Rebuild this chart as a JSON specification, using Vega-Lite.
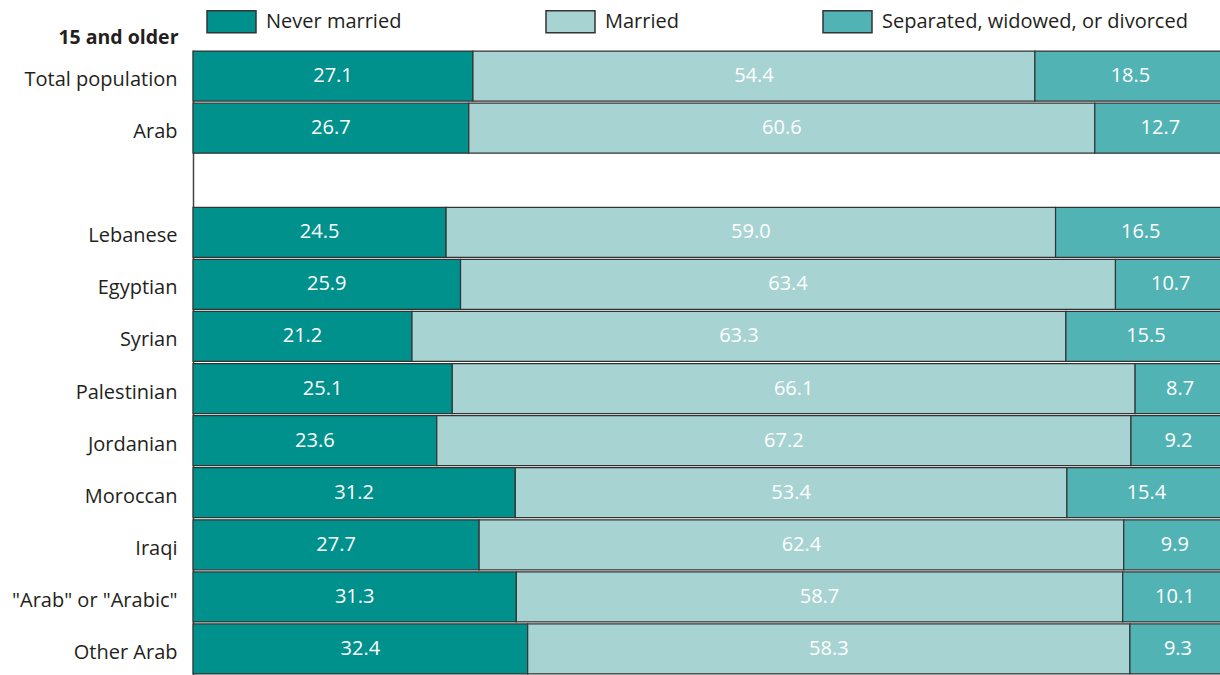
{
  "$schema": "https://vega.github.io/schema/vega-lite/v6.json",
  "autosize": "none",
  "padding": {"left": 193, "top": 50, "right": 0, "bottom": 0},
  "width": 1033,
  "height": 625,
  "background": "white",
  "config": {
    "view": {"stroke": null},
    "font": "Open Sans",
    "text": {"font": "Open Sans"}
  },
  "data": {
    "values": [
      {"group": "Total population", "status": "Never married", "value": 27.1},
      {"group": "Total population", "status": "Married", "value": 54.4},
      {"group": "Total population", "status": "Separated, widowed, or divorced", "value": 18.5},
      {"group": "Arab", "status": "Never married", "value": 26.7},
      {"group": "Arab", "status": "Married", "value": 60.6},
      {"group": "Arab", "status": "Separated, widowed, or divorced", "value": 12.7},
      {"group": "Lebanese", "status": "Never married", "value": 24.5},
      {"group": "Lebanese", "status": "Married", "value": 59.0},
      {"group": "Lebanese", "status": "Separated, widowed, or divorced", "value": 16.5},
      {"group": "Egyptian", "status": "Never married", "value": 25.9},
      {"group": "Egyptian", "status": "Married", "value": 63.4},
      {"group": "Egyptian", "status": "Separated, widowed, or divorced", "value": 10.7},
      {"group": "Syrian", "status": "Never married", "value": 21.2},
      {"group": "Syrian", "status": "Married", "value": 63.3},
      {"group": "Syrian", "status": "Separated, widowed, or divorced", "value": 15.5},
      {"group": "Palestinian", "status": "Never married", "value": 25.1},
      {"group": "Palestinian", "status": "Married", "value": 66.1},
      {"group": "Palestinian", "status": "Separated, widowed, or divorced", "value": 8.7},
      {"group": "Jordanian", "status": "Never married", "value": 23.6},
      {"group": "Jordanian", "status": "Married", "value": 67.2},
      {"group": "Jordanian", "status": "Separated, widowed, or divorced", "value": 9.2},
      {"group": "Moroccan", "status": "Never married", "value": 31.2},
      {"group": "Moroccan", "status": "Married", "value": 53.4},
      {"group": "Moroccan", "status": "Separated, widowed, or divorced", "value": 15.4},
      {"group": "Iraqi", "status": "Never married", "value": 27.7},
      {"group": "Iraqi", "status": "Married", "value": 62.4},
      {"group": "Iraqi", "status": "Separated, widowed, or divorced", "value": 9.9},
      {"group": "\"Arab\" or \"Arabic\"", "status": "Never married", "value": 31.3},
      {"group": "\"Arab\" or \"Arabic\"", "status": "Married", "value": 58.7},
      {"group": "\"Arab\" or \"Arabic\"", "status": "Separated, widowed, or divorced", "value": 10.1},
      {"group": "Other Arab", "status": "Never married", "value": 32.4},
      {"group": "Other Arab", "status": "Married", "value": 58.3},
      {"group": "Other Arab", "status": "Separated, widowed, or divorced", "value": 9.3}
    ]
  },
  "transform": [
    {"calculate": "indexof(['Never married','Married','Separated, widowed, or divorced'], datum.status)", "as": "ord"},
    {"stack": "value", "groupby": ["group"], "sort": [{"field": "ord", "order": "ascending"}], "as": ["x0", "x1"]},
    {"calculate": "(datum.x0 + datum.x1) / 2", "as": "xm"}
  ],
  "encoding": {
    "y": {
      "field": "group",
      "type": "nominal",
      "scale": {
        "domain": ["Total population", "Arab", " ", "Lebanese", "Egyptian", "Syrian", "Palestinian", "Jordanian", "Moroccan", "Iraqi", "\"Arab\" or \"Arabic\"", "Other Arab"],
        "paddingInner": 0.04,
        "paddingOuter": 0.02
      },
      "axis": {
        "title": "15 and older",
        "titleAngle": 0,
        "titleAlign": "right",
        "titleBaseline": "alphabetic",
        "titleX": -15,
        "titleY": -7,
        "titleFont": "Open Sans",
        "titleFontSize": 19.5,
        "titleFontWeight": "bold",
        "titleColor": "#231f20",
        "labelFont": "Open Sans",
        "labelFontSize": 20,
        "labelColor": "#231f20",
        "labelPadding": 16,
        "labelBaseline": "middle",
        "labelOffset": 4,
        "ticks": false,
        "domain": true,
        "domainColor": "#444",
        "domainWidth": 1.5
      }
    }
  },
  "layer": [
    {
      "mark": {"type": "bar", "stroke": "#333", "strokeWidth": 1.2},
      "encoding": {
        "x": {"field": "x0", "type": "quantitative", "scale": {"domain": [0, 100], "nice": false}, "axis": null},
        "x2": {"field": "x1"},
        "fill": {
          "field": "status",
          "type": "nominal",
          "sort": ["Never married", "Married", "Separated, widowed, or divorced"],
          "scale": {
            "domain": ["Never married", "Married", "Separated, widowed, or divorced"],
            "range": ["#00918d", "#a8d3d3", "#52b3b5"]
          },
          "legend": {
            "title": null,
            "orient": "none",
            "direction": "horizontal",
            "legendX": 13,
            "legendY": -54,
            "symbolType": "M-1,-0.45H1V0.45H-1Z",
            "symbolSize": 2401,
            "symbolStrokeColor": "#333",
            "symbolStrokeWidth": 1.5,
            "symbolOpacity": 1,
            "labelFont": "Open Sans",
            "labelFontSize": 20,
            "labelColor": "#231f20",
            "labelOffset": 9,
            "labelLimit": 400,
            "columnPadding": 141
          }
        }
      }
    },
    {
      "mark": {"type": "text", "color": "white", "font": "Open Sans", "fontSize": 20, "baseline": "middle"},
      "encoding": {
        "x": {"field": "xm", "type": "quantitative"},
        "text": {"field": "value", "type": "quantitative", "format": ".1f"}
      }
    }
  ]
}
